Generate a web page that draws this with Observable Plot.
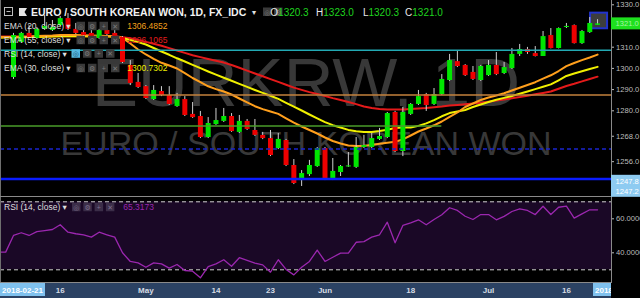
<!DOCTYPE html>
<html><head><meta charset="utf-8">
<script src="https://cdn.jsdelivr.net/npm/d3@7"></script>
<script src="https://cdn.jsdelivr.net/npm/@observablehq/plot@0.6"></script>
<style>
html,body{margin:0;padding:0;background:#000;}
#chart{width:640px;height:298px;overflow:hidden;position:relative;background:#000;}
#chart svg{display:block;}
</style></head><body><div id="chart"></div>
<script>
const FONT = "'Liberation Sans', Arial, 'DejaVu Sans', sans-serif";

// ---- data: daily candles (index 0 = 2018-04-06 ... 75 = 2018-07-20)
const opens  = [1295.7,1312.2,1316.5,1314.1,1318.4,1317.9,1320.2,1323.5,1318.4,1316.9,1316.5,1314.1,1317.9,1316.5,1314.6,1301.4,1293.4,1291.4,1285.3,1289.1,1287.2,1282.0,1285.3,1278.3,1277.3,1267.4,1273.5,1275.0,1277.3,1269.8,1275.0,1270.7,1268.4,1266.9,1262.2,1266.0,1254.2,1247.1,1249.9,1253.7,1262.2,1247.6,1250.9,1253.5,1253.3,1262.7,1262.7,1266.5,1267.4,1279.2,1260.8,1278.3,1283.0,1287.7,1283.0,1287.7,1294.3,1303.2,1301.4,1298.1,1294.3,1296.6,1301.4,1297.6,1299.9,1306.6,1308.9,1307.0,1305.6,1315.5,1309.4,1319.3,1320.2,1311.7,1316.9,1320.3];
const highs  = [1316.5,1317.0,1320.2,1319.3,1325.0,1322.6,1324.5,1325.9,1321.2,1317.9,1319.8,1318.4,1318.8,1319.3,1315.0,1303.7,1297.6,1291.9,1291.9,1291.4,1291.4,1288.2,1286.7,1283.9,1279.7,1276.8,1281.1,1281.1,1278.7,1277.8,1275.9,1275.9,1269.8,1270.7,1269.3,1266.5,1257.0,1251.8,1256.6,1262.7,1262.7,1257.5,1254.2,1260.3,1267.4,1268.4,1269.3,1271.7,1279.2,1279.7,1281.6,1283.4,1289.6,1288.2,1290.5,1297.1,1306.6,1308.4,1301.8,1300.9,1301.4,1303.7,1307.5,1302.8,1309.4,1311.3,1309.9,1310.3,1317.4,1318.8,1319.1,1321.2,1320.5,1317.9,1324.0,1323.0];
const lows   = [1294.8,1311.8,1314.1,1313.6,1317.9,1317.4,1319.8,1317.9,1316.0,1315.0,1314.1,1313.6,1315.5,1314.1,1302.3,1291.9,1290.5,1285.3,1284.9,1286.7,1282.5,1281.6,1277.3,1276.4,1266.9,1266.9,1273.1,1274.5,1269.8,1269.3,1270.7,1267.9,1266.4,1258.4,1261.7,1253.7,1245.2,1244.3,1249.0,1253.3,1247.1,1247.1,1249.0,1253.3,1252.8,1262.2,1262.2,1266.0,1266.9,1260.3,1258.4,1277.8,1282.5,1279.7,1282.5,1287.2,1293.8,1300.4,1296.2,1294.3,1293.8,1296.2,1296.6,1297.1,1299.5,1305.6,1306.6,1305.4,1305.6,1309.2,1309.2,1318.8,1311.5,1311.3,1316.5,1320.3];
const closes = [1315.5,1316.5,1314.6,1318.4,1319.8,1319.3,1323.5,1318.4,1316.5,1315.5,1314.6,1317.9,1316.0,1314.6,1302.8,1292.9,1291.0,1285.8,1289.6,1287.2,1283.0,1285.3,1277.8,1276.8,1267.4,1274.0,1275.4,1277.3,1270.2,1275.0,1271.2,1268.4,1266.9,1258.9,1266.5,1254.2,1245.7,1250.4,1254.2,1262.2,1247.6,1251.4,1253.7,1254.0,1262.7,1263.6,1266.9,1267.9,1278.7,1260.8,1279.2,1283.0,1286.7,1282.5,1287.7,1294.8,1303.7,1300.9,1296.6,1294.8,1300.9,1301.4,1297.1,1300.4,1306.6,1308.9,1307.5,1305.6,1315.0,1309.4,1318.8,1319.8,1311.7,1317.4,1321.2,1321.0];

// indicator series start at index -2 (two bars left of the first visible candle)
const seriesStart = -2;
const ema20 = [1314.8,1314.8,1314.81,1314.95,1315.05,1315.24,1315.43,1315.52,1315.71,1315.76,1315.71,1315.62,1315.52,1315.43,1315.33,1315.14,1314.34,1311.75,1308.92,1306.56,1304.48,1302.64,1301.37,1299.95,1297.74,1295.47,1293.54,1291.56,1290.24,1289.10,1287.69,1285.80,1284.01,1282.17,1280.80,1279.67,1278.54,1276.46,1274.39,1272.60,1270.94,1269.29,1267.41,1265.76,1264.58,1263.63,1263.35,1263.49,1263.87,1264.44,1264.91,1265.43,1266.47,1268.35,1270.24,1271.65,1273.16,1274.95,1277.08,1279.20,1281.79,1283.44,1285.10,1286.28,1287.22,1288.26,1289.58,1290.90,1292.17,1293.49,1295.14,1296.75,1298.77,1301.04,1302.55,1303.92,1305.14,1306.49];
const ema55 = [1315.05,1315.05,1315.05,1315.05,1315.05,1315.05,1315.05,1315.14,1315.14,1315.14,1315.19,1315.19,1315.24,1315.24,1315.24,1315.14,1314.67,1314.25,1313.40,1312.50,1311.61,1310.66,1309.58,1308.45,1307.31,1306.23,1305.33,1304.44,1303.59,1302.74,1301.60,1300.28,1298.96,1297.60,1296.27,1294.95,1293.63,1292.27,1290.95,1289.86,1288.82,1287.97,1286.98,1285.99,1285.10,1284.15,1283.16,1282.03,1281.32,1280.85,1280.62,1280.62,1280.66,1280.90,1281.09,1281.32,1281.65,1282.03,1282.50,1282.78,1283.11,1283.44,1283.77,1284.25,1284.81,1285.33,1285.90,1286.46,1287.12,1287.78,1288.44,1289.11,1290.43,1291.70,1292.74,1293.9,1295.0,1296.1];
const ema30 = [1314.5,1314.55,1314.58,1314.67,1314.77,1314.86,1314.95,1315.05,1315.14,1315.19,1315.19,1315.14,1315.10,1315.05,1315.00,1314.91,1314.34,1313.40,1312.41,1311.27,1309.62,1307.97,1306.42,1304.77,1303.26,1301.70,1300.10,1298.54,1297.03,1295.61,1294.15,1292.69,1291.27,1289.81,1288.44,1287.08,1285.61,1283.77,1281.94,1280.14,1278.26,1276.42,1274.67,1273.21,1272.12,1270.99,1270.38,1269.95,1270.00,1270.47,1271.09,1271.89,1272.12,1272.12,1272.88,1274.06,1275.57,1277.41,1278.92,1279.67,1280.38,1281.79,1282.97,1284.15,1285.24,1286.09,1286.98,1288.02,1289.11,1290.24,1291.37,1292.45,1294.39,1296.42,1297.60,1298.63,1299.72,1300.73];
const rsi14 = [40.4,40.4,50.2,51.8,50.2,52.5,53.1,53.7,56.5,52.1,51.2,50.6,49.2,52.1,50.6,49.2,40.0,34.9,34.1,31.5,34.1,33.5,31.0,33.1,29.6,29.2,25.3,31.9,33.5,35.9,32.1,37.1,35.5,33.9,32.9,28.6,35.9,30.2,27.0,31.5,34.9,41.6,34.9,37.4,39.8,39.8,46.2,46.6,49.2,50.6,58.0,45.9,56.1,57.6,59.4,56.5,59.6,62.4,66.5,64.9,61.5,59.6,62.5,62.5,59.4,61.4,64.3,65.9,64.9,62.5,67.4,62.5,66.8,67.4,60.4,62.9,65.3,65.3];

// horizontal drawing levels
const levelCyan = 1308.6, levelOrange = 1287.45, levelGreen = 1272.8, levelBlueDash = 1262.0, levelBlue = 1247.8;
const greenEndIndex = 55;

// axis ticks
const priceTicks = [1330, 1310, 1300, 1290, 1280, 1268, 1256];
const rsiTicks = [60, 40];
const xTickIdx = [6, 17, 26, 33, 40, 51, 61, 71];
const xTickLabels = ["16", "May", "14", "23", "Jun", "18", "Jul", "16"];

// text
const legendRows = [
  {label: "EMA (20, close) \u25BE", value: "1306.4852", color: "#f5a11c"},
  {label: "EMA (55, close) \u25BE", value: "1296.1065", color: "#e31c1c"},
  {label: "RSI (14, close) \u25BE", value: null, color: null},
  {label: "EMA (30, close) \u25BE", value: "1300.7302", color: "#eeee00"}
];
const ohlc = [["O", "1320.3"], ["H", "1323.0"], ["L", "1320.3"], ["C", "1321.0"]];

// ---- tables
const candles = opens.map((o, i) => ({i, open: o, high: highs[i], low: lows[i], close: closes[i]}));
const toRows = arr => arr.map((v, k) => ({i: k + seriesStart, v}));
const UP = "#00e600", DOWN = "#ee0000";

const xDomain = [-1.669, 76.79];
const yDomain = [1239.1, 1332.03];

const main = Plot.plot({
  width: 640, height: 197,
  marginLeft: 0, marginRight: 29, marginTop: 0, marginBottom: 0,
  style: {background: "#000", fontFamily: FONT, fontSize: "7.6px", color: "#bdbdbd", overflow: "visible"},
  x: {domain: xDomain, axis: null},
  y: {domain: yDomain, axis: "right", ticks: priceTicks, tickFormat: d => d.toFixed(1), tickSize: 2, tickPadding: 2.5, label: null},
  marks: [
    Plot.text(["EURKRW, 1D"], {frameAnchor: "top", lineAnchor: "bottom", dy: 105, fontSize: 69, fill: "#383838"}),
    Plot.text(["EURO / SOUTH KOREAN WON"], {frameAnchor: "top", lineAnchor: "bottom", dy: 154, fontSize: 34, fill: "#383838"}),
    Plot.line(toRows(ema55), {x: "i", y: "v", stroke: "#e41a1a", strokeWidth: 2, clip: true}),
    Plot.line(toRows(ema30), {x: "i", y: "v", stroke: "#f0f000", strokeWidth: 2, clip: true}),
    Plot.line(toRows(ema20), {x: "i", y: "v", stroke: "#ff9f1c", strokeWidth: 2, clip: true}),
    Plot.rect([candles[candles.length - 1]], {x1: "i", x2: "i", y1: "low", y2: "high",
      insetLeft: -7, insetRight: -10, insetTop: -6.5, insetBottom: -3.4,
      fill: "#3d3d3d", stroke: "#2233cc", strokeWidth: 2}),
    Plot.ruleX(candles, {x: "i", y1: "low", y2: "high", stroke: "#cfcfcf", strokeWidth: 1}),
    Plot.ruleX(candles, {x: "i", y1: "open", y2: "close", stroke: d => d.close >= d.open ? UP : DOWN, strokeWidth: 5}),
    Plot.ruleY([levelCyan], {stroke: "#22a9b3", strokeWidth: 1.5}),
    Plot.ruleY([levelOrange], {stroke: "#c4823c", strokeWidth: 1.5}),
    Plot.ruleY([levelGreen], {x1: xDomain[0], x2: greenEndIndex, stroke: "#4a9c2a", strokeWidth: 1.5}),
    Plot.ruleY([levelBlueDash], {stroke: "#1a24d0", strokeWidth: 1.5, strokeDasharray: "4,3"}),
    Plot.ruleY([levelBlue], {stroke: "#0a1cff", strokeWidth: 2.5})
  ]
});

const rsiPlot = Plot.plot({
  width: 640, height: 101,
  marginLeft: 0, marginRight: 29, marginTop: 0, marginBottom: 16,
  style: {background: "#000", fontFamily: FONT, fontSize: "8px", color: "#bdbdbd", overflow: "visible"},
  x: {domain: xDomain, axis: "bottom", ticks: xTickIdx, tickFormat: d => xTickLabels[xTickIdx.indexOf(d)], tickSize: 0, tickPadding: 5, label: null},
  y: {domain: [22.53, 72.53], axis: "right", ticks: rsiTicks, tickFormat: d => d.toFixed(4), tickSize: 2, tickPadding: 2.5, label: null},
  marks: [
    Plot.rect([{lo: 30, hi: 70}], {x1: () => xDomain[0], x2: () => xDomain[1], y1: "lo", y2: "hi", fill: "#1a0826"}),
    Plot.ruleY([30, 70], {stroke: "#cfcfcf", strokeWidth: 1, strokeDasharray: "4,3"}),
    Plot.line(toRows(rsi14), {x: "i", y: "v", stroke: "#9b27af", strokeWidth: 1.3, clip: true})
  ]
});

const chart = document.getElementById("chart");
chart.appendChild(main);
chart.appendChild(rsiPlot);

function txt(g, x, y, s, o = {}) {
  return g.append("text").attr("x", x).attr("y", y)
    .attr("font-family", FONT).attr("font-size", o.size || 8.5)
    .attr("font-weight", o.weight || "normal").attr("fill", o.fill || "#dcdcdc")
    .attr("text-anchor", o.anchor || "start").text(s);
}
function iconBox(g, x, y, glyph, bg, fg) {
  g.append("rect").attr("x", x).attr("y", y).attr("width", 8.5).attr("height", 8.5).attr("fill", bg);
  txt(g, x + 4.25, y + 7, glyph, {size: 7, fill: fg, anchor: "middle"});
}

// ---- main overlay
{
  const sy = main.scale("y");
  const svg = d3.select(main);
  const g = svg.append("g");
  g.append("line").attr("x1", 0.5).attr("x2", 0.5).attr("y1", 0).attr("y2", 197).attr("stroke", "#6f6f6f");
  g.append("line").attr("x1", 611.5).attr("x2", 611.5).attr("y1", 0).attr("y2", 197).attr("stroke", "#8a8a8a");
  g.append("line").attr("x1", 0).attr("x2", 612).attr("y1", 196.5).attr("y2", 196.5).attr("stroke", "#8a8a8a");

  // price tags
  const tags = [
    {v: closes[closes.length - 1], shift: 0, bg: "#1ee01e", fg: "#a6f3a6", h: 12},
    {v: levelBlue, shift: 2, bg: "#8ecbf1", fg: "#ffffff", h: 11.5},
    {v: 1247.2, shift: 11.5, bg: "#8ecbf1", fg: "#ffffff", h: 11}
  ];
  for (const t of tags) {
    const cy = sy.apply(t.v) + t.shift;
    g.append("rect").attr("x", 611).attr("y", cy - t.h / 2).attr("width", 29).attr("height", t.h).attr("fill", t.bg);
    txt(g, 615.5, cy + 3, t.v.toFixed(1), {size: 7.6, fill: t.fg});
  }

  // header
  g.append("rect").attr("x", 4.5).attr("y", 7.5).attr("width", 8).attr("height", 8).attr("fill", "none").attr("stroke", "#bdbdbd");
  g.append("line").attr("x1", 6.5).attr("x2", 10.5).attr("y1", 11.5).attr("y2", 11.5).attr("stroke", "#bdbdbd");
  g.append("path").attr("d", "M19,8 H27 L24.5,12 L27,16 H19 Z").attr("fill", "#e6e6e6");
  txt(g, 31, 15.5, "EURO / SOUTH KOREAN WON, 1D, FX_IDC", {size: 10.5, weight: "bold", fill: "#f2f2f2"});
  txt(g, 252, 15, "\u25BE", {size: 8, fill: "#e0e0e0"});
  iconBox(g, 263, 7.5, "\u25CE", "#3a3a3a", "#7a7a7a");
  iconBox(g, 274, 7.5, "\u2699", "#3a3a3a", "#7a7a7a");
  const ohlcX = [289.5, 335, 381, 424];
  ohlc.forEach(([k, v], j) => {
    const t = g.append("text").attr("x", ohlcX[j]).attr("y", 15.5).attr("font-family", FONT).attr("font-size", 10);
    t.append("tspan").attr("fill", "#e8e8e8").text(k);
    t.append("tspan").attr("fill", "#1fd31f").text(v);
  });

  // legend rows
  const rowCenters = [26, 40, 53.5, 68];
  legendRows.forEach((r, j) => {
    const cy = rowCenters[j];
    txt(g, 4, cy + 3, r.label, {size: 8.5, fill: "#dedede"});
    const isRsi = r.value === null;
    const x0 = isRsi ? 71.5 : 76.5;
    const glyphs = ["\u25CE", "\u2699", "+", "\u2715"];
    glyphs.forEach((gl, k) => {
      const hi = isRsi && k === 0;
      iconBox(g, x0 + k * 11.5, cy - 4.25, gl, hi ? "#55b9e2" : "#3a3a3a", hi ? "#1a4a66" : "#7c7c7c");
    });
    if (!isRsi) txt(g, 127.3, cy + 3, r.value, {size: 8.5, fill: r.color});
  });
}

// ---- RSI overlay
{
  const svg = d3.select(rsiPlot);
  svg.insert("rect", ":first-child").attr("x", 0).attr("y", 85).attr("width", 611).attr("height", 16).attr("fill", "#2b4263");
  svg.selectAll('g[aria-label="x-axis tick label"]').attr("fill", "#d6dce4").attr("font-weight", "bold");
  svg.selectAll('g[aria-label="x-axis tick label"] text').attr("font-weight", "bold").attr("fill", "#d6dce4");
  svg.selectAll('g[aria-label="y-axis tick label"]').attr("font-size", "7.6px");
  const g = svg.append("g");
  g.append("line").attr("x1", 0.5).attr("x2", 0.5).attr("y1", 0).attr("y2", 85).attr("stroke", "#6f6f6f");
  g.append("line").attr("x1", 611.5).attr("x2", 611.5).attr("y1", 0).attr("y2", 86).attr("stroke", "#8a8a8a");
  g.append("line").attr("x1", 0).attr("x2", 612).attr("y1", 85.5).attr("y2", 85.5).attr("stroke", "#8a8a8a");

  txt(g, 4, 13, "RSI (14, close) \u25BE", {size: 8.5, fill: "#dedede"});
  ["\u25CE", "\u2699", "+", "\u2715"].forEach((gl, k) => iconBox(g, 72 + k * 11.3, 5.75, gl, "#3b2d48", "#7d6e8c"));
  txt(g, 123.3, 13, "65.3173", {size: 8.5, fill: "#9b27af"});

  // crosshair date boxes on the time axis
  g.append("rect").attr("x", 0).attr("y", 86).attr("width", 45).attr("height", 13).attr("fill", "#7fc1ee");
  txt(g, 22.5, 95.5, "2018-02-21", {size: 8, weight: "bold", fill: "#ffffff", anchor: "middle"});
  const clipSvg = g.append("svg").attr("x", 593).attr("y", 86).attr("width", 18).attr("height", 13).attr("overflow", "hidden");
  clipSvg.append("rect").attr("x", 0).attr("y", 0).attr("width", 18).attr("height", 13).attr("fill", "#7fc1ee");
  txt(clipSvg, 2, 9.5, "2018-07-20", {size: 8, weight: "bold", fill: "#ffffff"});
}
</script></body></html>
